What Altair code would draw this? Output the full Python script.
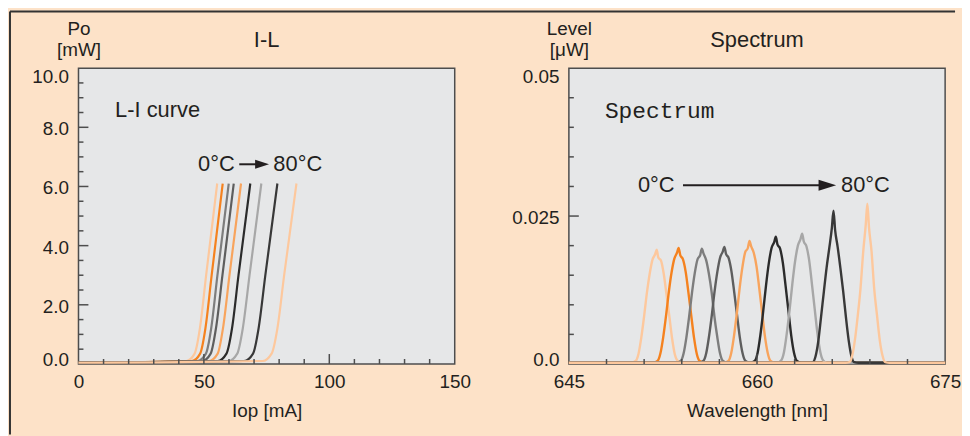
import altair as alt
import pandas as pd

# ---------------- data ----------------
SERIES = ["0°C", "10°C", "20°C", "30°C", "40°C", "50°C", "60°C", "70°C", "80°C"]
COLORS = ["#fdc89d", "#f5821f", "#7d7d7d", "#5e5e5e", "#f8a45d",
          "#2b2b2b", "#a7a7a7", "#383838", "#fdc89d"]

# I-L curves: optical power levels [mW] and drive current [mA] per temperature
IL_POWER = [0.04, 0.10, 0.35, 1.2, 3.0, 6.1]
IL_CURRENT = {
    "0°C":  [0, 43.0, 46.3, 48.4, 50.9, 55.3],
    "10°C": [0, 45.2, 48.5, 50.6, 53.1, 57.5],
    "20°C": [0, 47.4, 50.8, 52.9, 55.4, 59.9],
    "30°C": [0, 49.3, 52.7, 54.8, 57.4, 61.9],
    "40°C": [0, 52.0, 55.5, 57.6, 60.2, 64.8],
    "50°C": [0, 55.5, 59.0, 61.2, 63.8, 68.5],
    "60°C": [0, 59.8, 63.3, 65.5, 68.2, 72.9],
    "70°C": [0, 66.0, 69.6, 71.8, 74.5, 79.3],
    "80°C": [0, 73.4, 77.0, 79.3, 82.0, 86.9],
}

# Spectra: wavelength [nm] and level [uW] per temperature
SP_WL = {
    "0°C":  [645, 650.0, 650.32, 650.55, 650.77, 651.0, 651.22, 651.44, 651.66, 651.87, 652.0, 652.13, 652.34, 652.56, 652.78, 653.0, 653.23, 653.45, 653.68, 654.0, 675],
    "10°C": [645, 651.75, 652.07, 652.3, 652.52, 652.75, 652.97, 653.19, 653.41, 653.62, 653.75, 653.88, 654.09, 654.31, 654.53, 654.75, 654.98, 655.2, 655.43, 655.75, 675],
    "20°C": [645, 653.6, 653.92, 654.15, 654.37, 654.6, 654.82, 655.04, 655.26, 655.47, 655.6, 655.73, 655.94, 656.16, 656.38, 656.6, 656.83, 657.05, 657.28, 657.6, 675],
    "30°C": [645, 655.4, 655.72, 655.95, 656.17, 656.4, 656.62, 656.84, 657.06, 657.27, 657.4, 657.53, 657.74, 657.96, 658.18, 658.4, 658.63, 658.85, 659.08, 659.4, 675],
    "40°C": [645, 657.4, 657.72, 657.95, 658.17, 658.4, 658.62, 658.84, 659.06, 659.27, 659.4, 659.53, 659.74, 659.96, 660.18, 660.4, 660.63, 660.85, 661.08, 661.4, 675],
    "50°C": [645, 659.5, 659.82, 660.05, 660.27, 660.5, 660.72, 660.94, 661.16, 661.37, 661.5, 661.63, 661.84, 662.06, 662.28, 662.5, 662.73, 662.95, 663.18, 663.5, 675],
    "60°C": [645, 661.6, 661.92, 662.15, 662.37, 662.6, 662.82, 663.04, 663.26, 663.47, 663.6, 663.73, 663.94, 664.16, 664.38, 664.6, 664.83, 665.05, 665.28, 665.6, 675],
    "70°C": [645, 664.1, 664.45, 664.67, 664.89, 665.11, 665.33, 665.55, 665.77, 665.97, 666.1, 666.23, 666.43, 666.65, 666.87, 667.09, 667.31, 667.53, 667.75, 668.1, 675],
    "80°C": [645, 667.04, 667.37, 667.59, 667.81, 668.03, 668.25, 668.47, 668.67, 668.8, 668.93, 669.13, 669.35, 669.57, 669.79, 670.01, 670.23, 670.56, 675],
}
SP_LV = {
    "0°C":  [0.0002, 0.0002, 0.0005, 0.0017, 0.0044, 0.0081, 0.0120, 0.0152, 0.0176, 0.0185, 0.0193, 0.0180, 0.0175, 0.0153, 0.0118, 0.0082, 0.0043, 0.0016, 0.0005, 0.0002, 0.0002],
    "10°C": [0.0002, 0.0002, 0.0005, 0.0018, 0.0045, 0.0082, 0.0122, 0.0155, 0.0178, 0.0188, 0.0196, 0.0184, 0.0177, 0.0156, 0.0121, 0.0083, 0.0044, 0.0017, 0.0005, 0.0002, 0.0002],
    "20°C": [0.0002, 0.0002, 0.0005, 0.0018, 0.0045, 0.0082, 0.0121, 0.0154, 0.0177, 0.0184, 0.0195, 0.0187, 0.0176, 0.0153, 0.0122, 0.0081, 0.0046, 0.0018, 0.0005, 0.0002, 0.0002],
    "30°C": [0.0002, 0.0002, 0.0005, 0.0018, 0.0046, 0.0083, 0.0123, 0.0156, 0.0180, 0.0190, 0.0198, 0.0186, 0.0179, 0.0157, 0.0122, 0.0084, 0.0045, 0.0018, 0.0005, 0.0002, 0.0002],
    "40°C": [0.0002, 0.0002, 0.0005, 0.0019, 0.0048, 0.0087, 0.0129, 0.0164, 0.0189, 0.0196, 0.0208, 0.0199, 0.0188, 0.0165, 0.0128, 0.0088, 0.0047, 0.0019, 0.0005, 0.0002, 0.0002],
    "50°C": [0.0002, 0.0002, 0.0005, 0.0019, 0.0049, 0.0090, 0.0133, 0.0170, 0.0196, 0.0206, 0.0215, 0.0202, 0.0195, 0.0171, 0.0132, 0.0091, 0.0048, 0.0019, 0.0005, 0.0002, 0.0002],
    "60°C": [0.0002, 0.0002, 0.0006, 0.0020, 0.0051, 0.0092, 0.0136, 0.0174, 0.0200, 0.0211, 0.0220, 0.0207, 0.0199, 0.0175, 0.0135, 0.0093, 0.0050, 0.0020, 0.0006, 0.0002, 0.0002],
    "70°C": [0.0002, 0.0002, 0.0003, 0.0013, 0.0039, 0.0080, 0.0122, 0.0163, 0.0197, 0.0230, 0.0259, 0.0226, 0.0198, 0.0162, 0.0123, 0.0079, 0.0040, 0.0013, 0.0003, 0.0002, 0.0002],
    "80°C": [0.0002, 0.0002, 0.0003, 0.0014, 0.0041, 0.0081, 0.0127, 0.0190, 0.0235, 0.0271, 0.0231, 0.0191, 0.0126, 0.0082, 0.0040, 0.0014, 0.0003, 0.0002, 0.0002],
}

# axis tick values
IL_X_LABELS = [0, 50, 100, 150]
IL_Y_LABELS = [0, 2, 4, 6, 8, 10]
IL_X_MAJOR = [50, 100]
IL_X_MINOR = [10, 20, 30, 40, 60, 70, 80, 90, 110, 120, 130, 140]
IL_Y_MAJOR = [2, 4, 6, 8]
IL_Y_MINOR = [0.5, 1, 1.5, 2.5, 3, 3.5, 4.5, 5, 5.5, 6.5, 7, 7.5, 8.5, 9, 9.5]

SP_X_LABELS = [645, 660, 675]
SP_Y_LABELS = [0, 0.025, 0.05]
SP_X_MAJOR = [660]
SP_X_MINOR = [648, 651, 654, 657, 663, 666, 669, 672]
SP_Y_MAJOR = [0.025]
SP_Y_MINOR = [0.005, 0.01, 0.015, 0.02, 0.03, 0.035, 0.04, 0.045]

# ---------------- styling ----------------
W, H = 379, 298
FONT = "Liberation Sans"
MONO = "Liberation Mono"
INK = "#231f20"
FRAME = "#4d4d4d"
BG = "#fde2c8"
PLOT_BG = "#e6e7e8"

color = alt.Color("series:N", scale=alt.Scale(domain=SERIES, range=COLORS), legend=None)
one = pd.DataFrame({"k": [0]})


def x_axis(values, fmt, title):
    return alt.Axis(values=values, format=fmt, ticks=False, tickSize=0, domain=False, grid=False,
                    labelFont=FONT, labelFontSize=19, labelColor=INK, labelPadding=9,
                    labelFlush=False, labelOverlap=False,
                    title=title, titleFont=FONT, titleFontSize=19, titleFontWeight="normal",
                    titleColor=INK, titleY=47, titleBaseline="middle")


def y_axis(values, title, top, **kw):
    return alt.Axis(values=values, ticks=False, tickSize=0, domain=False, grid=False,
                    labelFont=FONT, labelFontSize=19, labelColor=INK, labelPadding=10,
                    labelFlush=False, labelOverlap=False, labelBaseline="middle",
                    labelOffset={"condition": [{"test": f"datum.value >= {top}", "value": 8},
                                               {"test": "datum.value == 0", "value": -4}],
                                 "value": 1.5},
                    title=title, titleFont=FONT, titleFontSize=19, titleFontWeight="normal",
                    titleColor=INK, titleAngle=0, titleAlign="center", titleBaseline="bottom",
                    titleX=0, titleY=-30, titleLineHeight=21, **kw)


class Panel:
    def __init__(self, xs, ys, xax, yax):
        self.xs, self.ys, self.xax, self.yax = xs, ys, xax, yax

    def X(self, f):
        return alt.X(f, scale=self.xs, axis=self.xax)

    def Y(self, f):
        return alt.Y(f, scale=self.ys, axis=self.yax)


def inner_ticks(p, xmaj, xmin, ymaj, ymin):
    layers = []
    for vals, ln in ((xmin, 5), (xmaj, 10)):
        layers.append(alt.Chart(pd.DataFrame({"v": vals})).mark_rule(color=FRAME, strokeWidth=1.5).encode(
            x=p.X("v:Q"), y=alt.value(H), y2=alt.value(H - ln)))
    for vals, ln in ((ymin, 5), (ymaj, 10)):
        layers.append(alt.Chart(pd.DataFrame({"v": vals})).mark_rule(color=FRAME, strokeWidth=1.5).encode(
            y=p.Y("v:Q"), x=alt.value(0), x2=alt.value(ln)))
    return layers


def title_text(t):
    return alt.Chart(one).mark_text(font=FONT, fontSize=22, color=INK, baseline="middle").encode(
        x=alt.value(W / 2), y=alt.value(-28), text=alt.value(t))


def annotations(p, left_df, right_df, line_df, head_df, head_size, head_shape):
    lt = alt.Chart(left_df).mark_text(font=FONT, fontSize=22, color=INK, align="left", baseline="middle").encode(
        x=p.X("x:Q"), y=p.Y("y:Q"), text="t:N")
    rt = alt.Chart(right_df).mark_text(font=FONT, fontSize=22, color=INK, align="right", baseline="middle").encode(
        x=p.X("x:Q"), y=p.Y("y:Q"), text="t:N")
    ln = alt.Chart(line_df).mark_rule(color=INK, strokeWidth=2).encode(
        x=p.X("x:Q"), x2="x2:Q", y=p.Y("y:Q"))
    hd = alt.Chart(head_df).mark_point(shape=head_shape, filled=True, size=head_size, color=INK, opacity=1).encode(
        x=p.X("x:Q"), y=p.Y("y:Q"))
    return [lt, rt, ln, hd]


# ---------------- left panel: I-L ----------------
il_df = pd.DataFrame([{"series": s, "I": i, "P": p}
                      for s in SERIES for i, p in zip(IL_CURRENT[s], IL_POWER)])
pl = Panel(alt.Scale(domain=[0, 150], nice=False, zero=False),
           alt.Scale(domain=[0, 10], nice=False),
           x_axis(IL_X_LABELS, "d", "Iop [mA]"),
           y_axis(IL_Y_LABELS, ["Po", "[mW]"], 9.99, format=".1f"))

il_lines = alt.Chart(il_df).mark_line(strokeWidth=2.2, interpolate="monotone").encode(
    x=pl.X("I:Q"), y=pl.Y("P:Q"), color=color)

il_ann = annotations(
    pl,
    pd.DataFrame({"x": [14.6, 77.7], "y": [8.6, 6.75], "t": ["L-I curve", "80°C"]}),
    pd.DataFrame({"x": [62.3], "y": [6.75], "t": ["0°C"]}),
    pd.DataFrame({"x": [64.1], "x2": [72.0], "y": [6.75]}),
    pd.DataFrame({"x": [73.2], "y": [6.75]}),
    196, "M-1,-0.64L1,0L-1,0.64Z",
)

frame_top = alt.Chart(one).mark_rule(color="#333333", strokeWidth=2).encode(
    x=alt.value(-69), x2=alt.value(883), y=alt.value(-57))
frame_left = alt.Chart(one).mark_rule(color="#333333", strokeWidth=2).encode(
    x=alt.value(-69), y=alt.value(-57), y2=alt.value(369))

left = alt.layer(
    il_lines, *inner_ticks(pl, IL_X_MAJOR, IL_X_MINOR, IL_Y_MAJOR, IL_Y_MINOR),
    *il_ann, title_text("I-L"), frame_top, frame_left,
).properties(width=W, height=H)

# ---------------- right panel: Spectrum ----------------
sp_df = pd.DataFrame([{"series": s, "wl": w, "lv": v}
                      for s in SERIES for w, v in zip(SP_WL[s], SP_LV[s])])
pr = Panel(alt.Scale(domain=[645, 675], nice=False, zero=False),
           alt.Scale(domain=[0, 0.05], nice=False),
           x_axis(SP_X_LABELS, "d", "Wavelength [nm]"),
           y_axis(SP_Y_LABELS, ["Level", "[μW]"], 0.0499,
                  labelExpr="datum.value == 0 ? '0.0' : format(datum.value, '.3~f')"))

sp_lines = alt.Chart(sp_df).mark_line(strokeWidth=2.4, interpolate="monotone").encode(
    x=pr.X("wl:Q"), y=pr.Y("lv:Q"), color=color)

sp_ann = annotations(
    pr,
    pd.DataFrame({"x": [666.7], "y": [0.0302], "t": ["80°C"]}),
    pd.DataFrame({"x": [653.43], "y": [0.0302], "t": ["0°C"]}),
    pd.DataFrame({"x": [654.1], "x2": [665.0], "y": [0.0302]}),
    pd.DataFrame({"x": [665.61], "y": [0.0302]}),
    313, "M-1,-0.62L1,0L-1,0.62Z",
)
mono = alt.Chart(pd.DataFrame({"x": [647.87], "y": [0.0427], "t": ["Spectrum"]})).mark_text(
    font=MONO, fontSize=23, color=INK, align="left", baseline="middle").encode(
    x=pr.X("x:Q"), y=pr.Y("y:Q"), text="t:N")

right = alt.layer(
    sp_lines, *inner_ticks(pr, SP_X_MAJOR, SP_X_MINOR, SP_Y_MAJOR, SP_Y_MINOR),
    *sp_ann, mono, title_text("Spectrum"),
).properties(width=W, height=H)

chart = alt.hconcat(left, right, spacing=115, bounds="flush").properties(
    padding=0, background=BG
).configure_view(fill=PLOT_BG, stroke=FRAME, strokeWidth=1.5)

chart.save("out.html", embed_options={"renderer": "svg", "actions": False})
